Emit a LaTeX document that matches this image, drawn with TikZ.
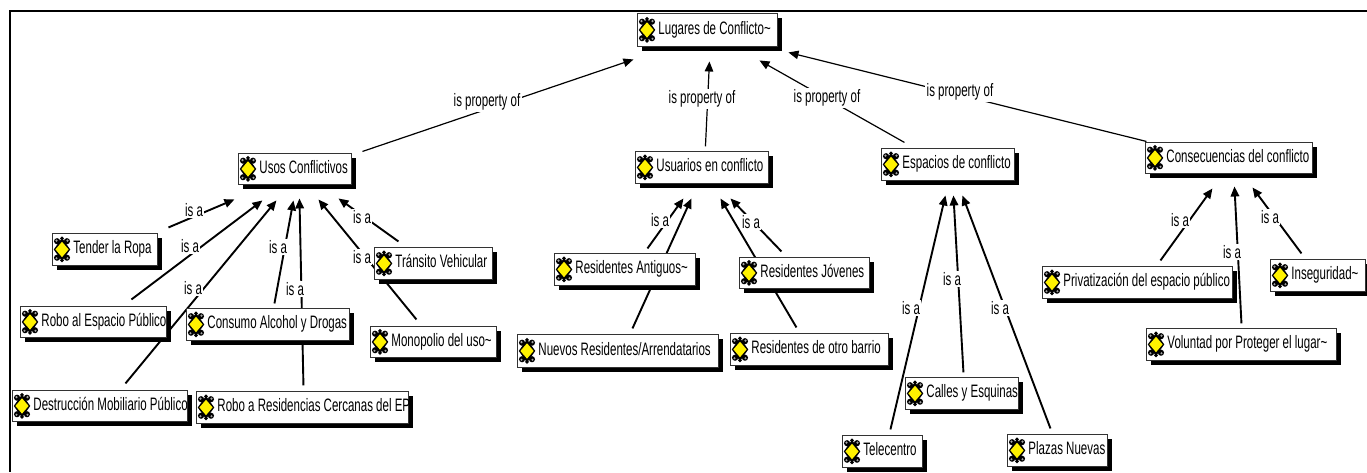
\documentclass[tikz,border=0pt]{standalone}
\usepackage{fontspec}
\setmainfont[FakeStretch=0.64]{Liberation Sans}
\usetikzlibrary{arrows.meta,backgrounds,shadows,calc}
\tikzset{
  cbox/.style={draw=black!80,line width=0.9pt,fill=white,rectangle,inner sep=0pt,anchor=north west,
    drop shadow={shadow xshift=4.5pt,shadow yshift=-5pt,fill=black,opacity=1}},
  lbl/.style={fill=white,inner xsep=1.5pt,inner ysep=1.5pt,font=\fontsize{18}{20}\selectfont},
  isa/.style={draw=black,line width=1.9pt,-{Triangle[length=10pt,width=8.5pt]}},
  prop/.style={draw=black,line width=1.2pt,-{Triangle[length=10pt,width=8.5pt]}},
  cicon/.pic={
    \begin{scope}[scale=1.1]
    \fill[black] (0,-10.5) -- (7.5,0) -- (0,10.5) -- (-7.5,0) -- cycle;
    \fill[black] (-4.5,-7.5) circle (2.8) (4.5,-7.5) circle (2.8) (-4.5,7.5) circle (2.8) (4.5,7.5) circle (2.8) (0,-10) circle (1.8) (0,10) circle (1.8);
    \fill[black!35] (-5,-8) circle (1.1) (5,-8) circle (1.1) (-5,8) circle (1.1) (5,8) circle (1.1);
    \fill[yellow] (0,-7) -- (6,0) -- (0,7) -- (-6,0) -- cycle;
    \end{scope}
  }
}
% name, x, y, w, h, text
\newcommand\cbx[6]{%
  \node[cbox,minimum width=#4pt,minimum height=#5pt] (#1) at (#2,#3)
    {\makebox[#4pt][l]{\hspace{21pt}\raisebox{0pt}[13pt][4pt]{\fontsize{18}{20}\selectfont #6}}};
  \pic at ([xshift=10pt]#1.west) {cicon};
}
% style, from, dx, dy, to, dx, dy
\newcommand\edg[7]{\draw[#1] ([shift={(#3,#4)}]#2.center) -- ([shift={(#6,#7)}]#5.center);}
\begin{document}
\begin{tikzpicture}[x=1pt,y=-1pt]
\useasboundingbox (0,0) rectangle (1367,472);
\coordinate (frameTR) at (1367,11);
\coordinate (frameTL) at (10,11);
\coordinate (frameBL) at (10,472);

\cbx{lug}{637}{13}{140}{33}{Lugares de Conflicto\textasciitilde}
\cbx{usos}{238}{153}{113}{31}{Usos Conflictivos}
\cbx{usu}{635}{151}{133}{32}{Usuarios en conflicto}
\cbx{esp}{881}{148}{133}{32}{Espacios de conflicto}
\cbx{cons}{1145}{142}{167}{31}{Consecuencias del conflicto}
\cbx{tender}{52}{233}{105}{32}{Tender la Ropa}
\cbx{roboesp}{20}{306}{146}{31}{Robo al Espacio Público}
\cbx{destr}{12}{390}{175}{31}{Destrucción Mobiliario Público}
\cbx{consumo}{186}{308}{163}{32}{Consumo Alcohol y Drogas}
\cbx{robores}{196}{391}{212}{32}{Robo a Residencias Cercanas del EP}
\cbx{transito}{374}{247}{118}{32}{Tránsito Vehicular}
\cbx{mono}{370}{326}{126}{31}{Monopolio del uso\textasciitilde}
\cbx{ant}{554}{253}{141}{32}{Residentes Antiguos\textasciitilde}
\cbx{nuevos}{517}{334}{201}{33}{Nuevos Residentes/Arrendatarios}
\cbx{jov}{739}{257}{130}{31}{Residentes Jóvenes}
\cbx{otro}{730}{333}{158}{32}{Residentes de otro barrio}
\cbx{tele}{842}{435}{80}{32}{Telecentro}
\cbx{calles}{905}{377}{113}{32}{Calles y Esquinas}
\cbx{plazas}{1007}{434}{100}{32}{Plazas Nuevas}
\cbx{priv}{1042}{266}{190}{32}{Privatización del espacio público}
\cbx{vol}{1146}{328}{190}{32}{Voluntad por Proteger el lugar\textasciitilde}
\cbx{inseg}{1270}{259}{95}{32}{Inseguridad\textasciitilde}

\begin{scope}[on background layer]
\fill[white] (0,0) rectangle (1367,472);
\draw[line width=1.6pt,black] (frameTR) -- (frameTL) -- (frameBL);
\edg{prop}{usos}{67.5}{-17.5}{lug}{-74}{29.5}
\edg{prop}{usu}{3.5}{-21}{lug}{2}{31.5}
\edg{prop}{esp}{-43.5}{-22}{lug}{52}{30.5}
\edg{prop}{cons}{-82.5}{-16.5}{lug}{81}{22.5}
\edg{isa}{tender}{63.5}{-22}{usos}{-60.5}{30.5}
\edg{isa}{roboesp}{38}{-22.5}{usos}{-32.5}{31.5}
\edg{isa}{destr}{25.5}{-22.5}{usos}{-18.5}{31.5}
\edg{isa}{consumo}{6.5}{-21}{usos}{-1.5}{31.5}
\edg{isa}{robores}{1}{-22}{usos}{4.5}{29.5}
\edg{isa}{mono}{-17}{-22.5}{usos}{23.5}{30.5}
\edg{isa}{transito}{-35}{-22}{usos}{43.5}{29.5}
\edg{isa}{ant}{22.5}{-21}{usu}{-18.5}{31}
\edg{isa}{nuevos}{14.5}{-22.5}{usu}{-10.5}{31}
\edg{isa}{jov}{-23}{-21.5}{usu}{28.5}{31}
\edg{isa}{otro}{-13}{-22}{usu}{18.5}{31}
\edg{isa}{tele}{8}{-22}{esp}{-2.5}{31}
\edg{isa}{calles}{1.5}{-21}{esp}{5.5}{31}
\edg{isa}{plazas}{-7}{-22}{esp}{14.5}{31}
\edg{isa}{priv}{23}{-22}{cons}{-16.5}{30.5}
\edg{isa}{vol}{0}{-21}{cons}{5.5}{28.5}
\edg{isa}{inseg}{-16.5}{-22}{cons}{23.5}{29.5}
\end{scope}

\node[lbl] (p1) at (487,102) {is property of};
\node[lbl] (p2) at (702,99) {is property of};
\node[lbl] (p3) at (827,98) {is property of};
\node[lbl] (p4) at (960,92) {is property of};
\node[lbl] (i1) at (194,210) {is a};
\node[lbl] (i2) at (190,246) {is a};
\node[lbl] (i3) at (193,288) {is a};
\node[lbl] (i4) at (278,247) {is a};
\node[lbl] (i5) at (295,289) {is a};
\node[lbl] (i6) at (362,257) {is a};
\node[lbl] (i7) at (362,217) {is a};
\node[lbl] (i8) at (660,220) {is a};
\node[lbl] (i9) at (751,222) {is a};
\node[lbl] (i10) at (911,308) {is a};
\node[lbl] (i11) at (952,279) {is a};
\node[lbl] (i12) at (1000,308) {is a};
\node[lbl] (i13) at (1180,220) {is a};
\node[lbl] (i14) at (1232,252) {is a};
\node[lbl] (i15) at (1270,217) {is a};
\end{tikzpicture}
\end{document}
